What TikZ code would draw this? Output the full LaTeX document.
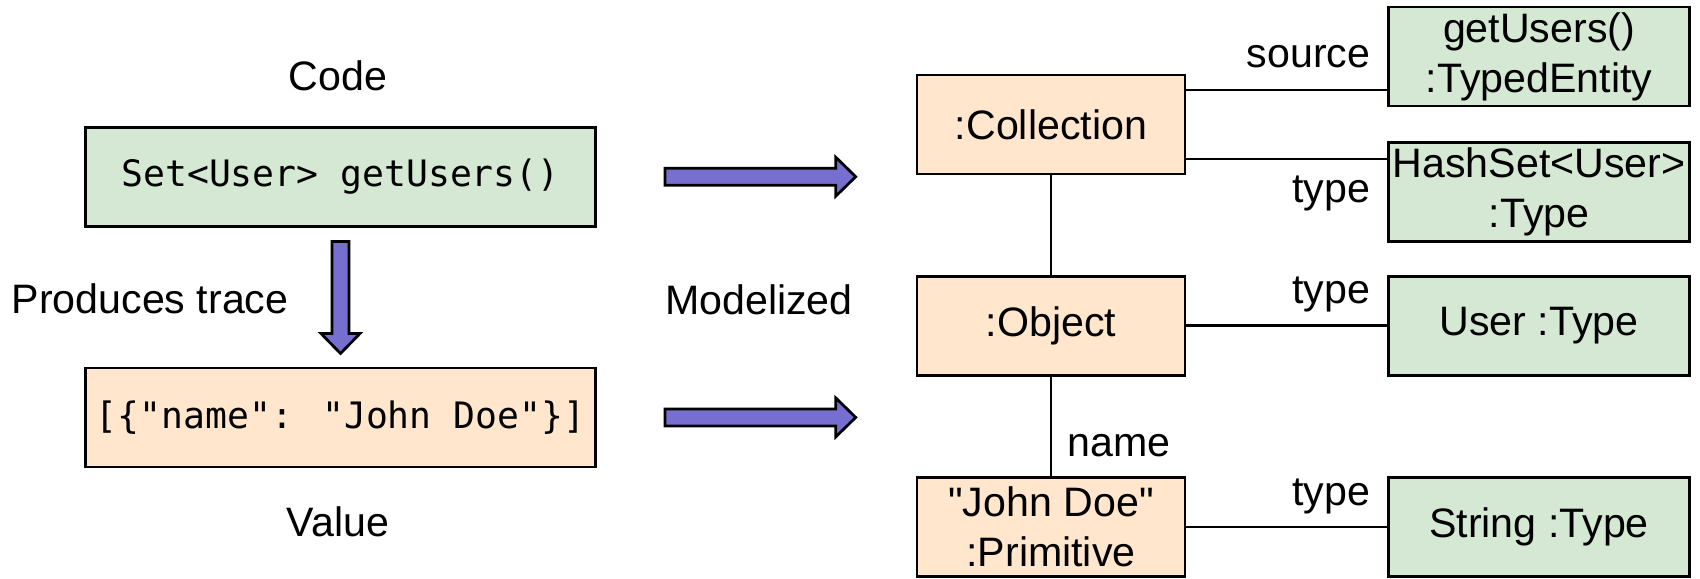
\documentclass[tikz,border=0pt]{standalone}
\usepackage{fontspec}
\setmainfont{Liberation Sans}[Ligatures=TeXOff]
\newfontfamily\codefont{DejaVu Sans Mono}
\usetikzlibrary{calc}

\definecolor{boxgreen}{HTML}{D5E8D4}
\definecolor{boxorange}{HTML}{FFE6CC}
\definecolor{arrowpurple}{HTML}{766FD0}

\tikzset{
  every node/.style={font=\fontsize{11.7pt}{14.2pt}\selectfont, inner sep=0pt},
  box/.style={draw=black, line width=0.78pt, align=center, minimum height=0.99cm},
  codebox/.style={box, fill=boxgreen, minimum width=5.1cm,
    font=\fontsize{10.35pt}{12pt}\codefont},
  valbox/.style={box, fill=boxorange, minimum width=5.1cm,
    font=\fontsize{10.35pt}{12pt}\codefont},
  objbox/.style={box, fill=boxorange, minimum width=2.68cm},
  typebox/.style={box, fill=boxgreen, minimum width=3.01cm},
  link/.style={draw=black, line width=0.78pt},
  fatarrow/.style={draw=black, fill=arrowpurple, line width=0.78pt, line join=miter},
  % block arrow pointing right, from start to target (same height)
  fatright/.style={fatarrow, to path={
    let \p1=(\tikztostart), \p2=(\tikztotarget) in
    (\x1,\y1+2.42pt) -- (\x2-5.69pt,\y1+2.42pt) -- (\x2-5.69pt,\y1+5.55pt)
    -- (\x2,\y1) -- (\x2-5.69pt,\y1-5.55pt) -- (\x2-5.69pt,\y1-2.42pt)
    -- (\x1,\y1-2.42pt) -- cycle}},
  % block arrow pointing down, from start to target (same column)
  fatdown/.style={fatarrow, to path={
    let \p1=(\tikztostart), \p2=(\tikztotarget) in
    (\x1-2.42pt,\y1) -- (\x1-2.42pt,\y2+5.69pt) -- (\x1-5.55pt,\y2+5.69pt)
    -- (\x1,\y2) -- (\x1+5.55pt,\y2+5.69pt) -- (\x1+2.42pt,\y2+5.69pt)
    -- (\x1+2.42pt,\y1) -- cycle}},
}

\begin{document}
\begin{tikzpicture}[x=0.01cm, y=-0.01cm]
\useasboundingbox (0,0) rectangle (1700,578);

% left column: code and its runtime value
\node[anchor=base] (codelbl) at (338,90) {Code};
\node[codebox] (code) at (340.5,176.7) {Set<User> getUsers()};
\node[valbox] (value) at (340.5,417.4) {[\{"name": "John Doe"\}]};
\node[anchor=base] (valuelbl) at (338,536.5) {Value};
\node[anchor=base west] (prodlbl) at (11,313) {Produces trace};

\coordinate (d1) at ($(code.south)+(0,14)$);
\coordinate (d2) at ($(value.north)+(0,-13)$);
\draw[fatdown] (d1) to (d2);

% modelization arrows
\node[anchor=base] (modlbl) at (759,314.5) {Modelized};
\coordinate (r1s) at ($(code.east)+(68,0)$);
\coordinate (r1e) at ($(code.east)+(258.7,0)$);
\coordinate (r2s) at ($(value.east)+(68,0)$);
\coordinate (r2e) at ($(value.east)+(258.7,0)$);
\draw[fatright] (r1s) to (r1e);
\draw[fatright] (r2s) to (r2e);

% model objects
\node[objbox] (coll) at (1051,124.5) {:Collection};
\node[objbox] (obj) at (1051,325.8) {:Object};
\node[objbox] (prim) at (1051,527) {"John Doe"\\:Primitive};

% types
\node[typebox] (src) at (1539,56.5) {getUsers()\\:TypedEntity};
\node[typebox] (hash) at (1539,191.8) {HashSet<User>\\:Type};
\node[typebox] (user) at (1539,325.8) {User :Type};
\node[typebox] (str) at (1539,527) {String :Type};

% relations
\draw[link] (coll) -- (obj);
\draw[link] (obj) -- (prim);
\coordinate (c1) at ($(coll.north east)+(0,16.5)$);
\coordinate (c2) at ($(coll.south east)+(0,-16.5)$);
\draw[link] (c1) -- (c1 -| src.west);
\draw[link] (c2) -- (c2 -| hash.west);
\draw[link] (obj) -- (user);
\draw[link] (prim) -- (str);

% relation labels
\node[anchor=base east] (srclbl) at (1371,67.5) {source};
\node[anchor=base east] (t1lbl) at (1371,202.5) {type};
\node[anchor=base east] (t2lbl) at (1371,303.5) {type};
\node[anchor=base east] (t3lbl) at (1371,505.5) {type};
\node[anchor=base west] (namelbl) at (1067,456) {name};
\end{tikzpicture}
\end{document}
